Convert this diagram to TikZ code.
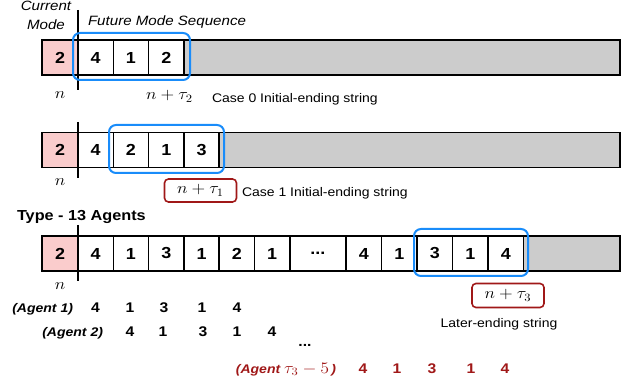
\RequirePackage{fix-cm}
\documentclass[tikz,border=0pt]{standalone}
\usepackage{fontspec}
\setmainfont[FakeStretch=1.12]{Liberation Sans}
\definecolor{pinkc}{RGB}{250,204,204}
\definecolor{grayc}{RGB}{204,204,204}
\definecolor{bluec}{RGB}{25,140,250}
\definecolor{redc}{RGB}{160,24,24}
\newcommand\mstr[1]{\scalebox{1.12}[1]{$#1$}}
\begin{document}
\begin{tikzpicture}[x=1pt,y=-1pt,
 every node/.style={inner sep=0pt, outer sep=0pt},
 strip/.style={draw, line width=1.6pt, fill=grayc, minimum height=35pt, anchor=west},
 cell/.style={draw, line width=1.6pt, fill=white, minimum height=35pt, minimum width=35.3pt, anchor=west, font=\fontsize{16}{18}\selectfont\bfseries},
 cur/.style={cell, fill=pinkc, minimum width=36pt},
 sepline/.style={line width=1.6pt},
 bluebox/.style={draw=bluec, line width=2pt, rounded corners=7pt},
 redbox/.style={draw=redc, line width=1.6pt, rounded corners=4pt, font=\fontsize{16}{18}\selectfont},
 lbl/.style={font=\fontsize{12.5}{15}\selectfont},
 ital/.style={font=\fontsize{13.5}{16}\selectfont\itshape},
 mathlbl/.style={font=\fontsize{16}{18}\selectfont},
 agent/.style={font=\fontsize{12.5}{15}\selectfont\bfseries\itshape, anchor=base east},
 num/.style={font=\fontsize{14}{16}\selectfont\bfseries, anchor=base}
]
\useasboundingbox (0,0) rectangle (638,382);

% header
\node[ital, anchor=base] (cur1) at (46,10.5) {Current};
\node[ital, anchor=base] (cur2) at (46,30) {Mode};
\node[ital, anchor=base west] (fut) at (88,26) {Future Mode Sequence};

% ---------- row 1
\node[strip, minimum width=578pt] (s1) at (42,57.5) {};
\node[cur] (p1) at (42,57.5) {2};
\foreach \x/\t [count=\i] in {78/4,113.3/1,148.6/2}
  \node[cell] (ra\i) at (\x,57.5) {\t};
\coordinate (v1a) at (78,10);
\coordinate (v1b) at (78,90);
\draw[sepline] (v1a) -- (v1b);
\node[bluebox, minimum width=117pt, minimum height=47pt] (b1) at (131.5,56.5) {};
\node[mathlbl, anchor=base] (n1) at (60,98.5) {\mstr{n}};
\node[mathlbl, anchor=base] (t2) at (169.5,100) {\mstr{n+\tau_2}};
\node[lbl, anchor=base west] (c0) at (212,103) {Case 0 Initial-ending string};

% ---------- row 2
\node[strip, minimum width=578pt] (s2) at (42,150) {};
\node[cur] (p2) at (42,150) {2};
\foreach \x/\t [count=\i] in {78/4,113.3/2,148.6/1,183.9/3}
  \node[cell] (rb\i) at (\x,150) {\t};
\coordinate (v2a) at (78,122);
\coordinate (v2b) at (78,178);
\draw[sepline] (v2a) -- (v2b);
\node[bluebox, minimum width=115pt, minimum height=48pt] (b2) at (166.5,149) {};
\node[mathlbl, anchor=base] (n2) at (60,186) {\mstr{n}};
\node[redbox, minimum width=72pt, minimum height=23pt] (t1) at (200.5,190.5) {\mstr{n+\tau_1}};
\node[lbl, anchor=base west] (c1) at (242,196.5) {Case 1 Initial-ending string};

% ---------- row 3
\node[font=\fontsize{14.5}{17}\selectfont\bfseries, anchor=base west] (type) at (17,220.5) {Type - 13 Agents};
\node[strip, minimum width=578pt] (s3) at (42,253.5) {};
\node[cur] (p3) at (42,253.5) {2};
\foreach \x/\t [count=\i] in {78/4,113.3/1,148.6/3,183.9/1,219.2/2,254.5/1}
  \node[cell] (rc\i) at (\x,253.5) {\t};
\node[cell, minimum width=56.2pt] (rdots) at (289.8,253.5) {...};
\foreach \x/\t [count=\i] in {346/4,381.5/1,417/3,452.5/1,488/4}
  \node[cell, minimum width=35.5pt] (rd\i) at (\x,253.5) {\t};
\coordinate (v3a) at (78,225);
\coordinate (v3b) at (78,281.5);
\draw[sepline] (v3a) -- (v3b);
\node[bluebox, minimum width=114pt, minimum height=47pt] (b3) at (471,252.5) {};
\node[mathlbl, anchor=base] (n3) at (60,290) {\mstr{n}};
\node[redbox, minimum width=72pt, minimum height=24pt] (t3) at (508,295.5) {\mstr{n+\tau_3}};
\node[lbl, anchor=base] (late) at (499,328) {Later-ending string};

% ---------- agents
\node[agent] (a1) at (73,313) {(Agent 1)};
\foreach \x/\t [count=\i] in {95.5/4,130/1,164/3,202/1,237/4}
  \node[num] (a1n\i) at (\x,313) {\t};
\node[agent] (a2) at (103,337) {(Agent 2)};
\foreach \x/\t [count=\i] in {130/4,163/1,203/3,237/1,272/4}
  \node[num] (a2n\i) at (\x,337) {\t};
\node[num] (dots) at (305,347) {...};
\node[agent, text=redc] (a3) at (336,373.3) {(Agent {\fontsize{16}{18}\selectfont\mstr{\tau_3-5}}\,)};
\foreach \x/\t [count=\i] in {363/4,397/1,432/3,471/1,505/4}
  \node[num, text=redc] (a3n\i) at (\x,373.3) {\t};
\end{tikzpicture}
\end{document}
